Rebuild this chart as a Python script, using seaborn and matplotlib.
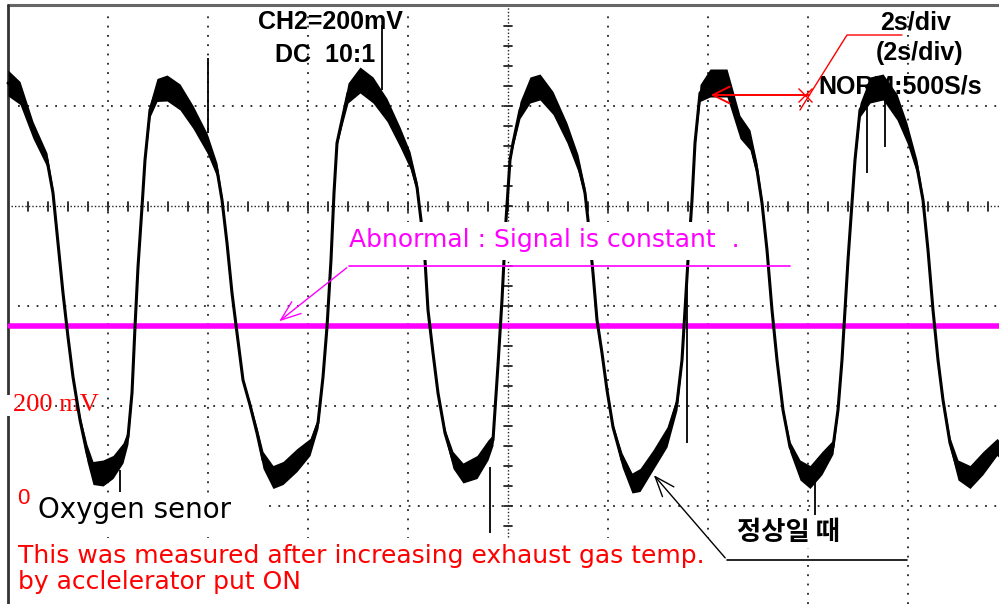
import numpy as np
import pandas as pd
import matplotlib
matplotlib.use('Agg')
import matplotlib.pyplot as plt
from matplotlib.patches import Rectangle
import seaborn as sns

# oscilloscope trace: time in s (2 s/div), voltage in mV (200 mV/div)
trace_t = [0.00, 0.24, 0.50, 0.78, 0.90, 1.00, 1.10, 1.20, 1.30, 1.44, 1.58, 1.70, 1.90, 2.10, 2.30,
           2.40, 2.48, 2.54, 2.60, 2.68, 2.74, 2.84, 2.98, 3.18, 3.44, 3.70, 3.98, 4.18, 4.28, 4.38,
           4.48, 4.58, 4.70, 4.84, 4.98, 5.10, 5.30, 5.50, 5.78, 6.04, 6.20, 6.30, 6.38, 6.46, 6.52,
           6.58, 6.68, 6.80, 7.04, 7.30, 7.58, 7.84, 8.04, 8.18, 8.26, 8.34, 8.40, 8.50, 8.60, 8.74,
           8.90, 9.10, 9.38, 9.60, 9.70, 9.80, 9.88, 9.96, 10.04, 10.10, 10.24, 10.44, 10.64, 10.90, 11.18,
           11.40, 11.54, 11.60, 11.70, 11.78, 11.88, 11.98, 12.10, 12.28, 12.48, 12.64, 12.90, 13.18, 13.38, 13.48,
           13.54, 13.60, 13.68, 13.74, 13.84, 14.04, 14.38, 14.64, 14.84, 14.98, 15.08, 15.18, 15.28, 15.38, 15.50,
           15.64, 15.84, 16.04, 16.28, 16.50, 16.60, 16.68, 16.74, 16.80, 16.88, 16.94, 17.04, 17.24, 17.50, 17.78,
           17.98, 18.18, 18.30, 18.40, 18.50, 18.60, 18.70, 18.84, 19.00, 19.24, 19.50, 19.78, 19.82]
trace_mv = [846, 826, 752, 692, 626, 526, 426, 338, 258, 172, 106, 66, 66, 78, 106,
            138, 226, 358, 478, 598, 692, 792, 832, 836, 818, 778, 726, 672, 612, 526,
            426, 346, 252, 202, 146, 92, 58, 66, 92, 118, 166, 258, 358, 492, 626,
            726, 772, 826, 852, 832, 792, 738, 692, 638, 572, 492, 392, 306, 226, 146,
            92, 66, 78, 112, 132, 282, 412, 572, 692, 726, 792, 832, 838, 806, 746,
            686, 626, 572, 466, 372, 306, 232, 158, 92, 46, 52, 92, 138, 206, 292,
            392, 492, 612, 726, 826, 846, 846, 758, 732, 672, 606, 512, 392, 292, 192,
            118, 72, 58, 86, 118, 192, 292, 392, 492, 606, 692, 792, 832, 838, 798,
            746, 678, 612, 512, 392, 292, 212, 126, 72, 58, 86, 118, 114]
# half-width of the noisy band around the trace, mV
trace_noise = [26, 23, 17, 14, 8, 3, 3, 3, 3, 8, 17, 23, 26, 23, 20,
               14, 3, 2, 2, 2, 5, 14, 23, 26, 26, 23, 20, 14, 8, 3,
               3, 3, 3, 6, 11, 17, 23, 23, 23, 17, 11, 3, 2, 2, 2,
               5, 11, 20, 26, 26, 23, 20, 17, 11, 5, 3, 3, 3, 3, 8,
               17, 20, 23, 20, 11, 3, 2, 2, 3, 8, 17, 26, 26, 23, 20,
               17, 11, 5, 3, 3, 3, 3, 6, 14, 20, 23, 20, 20, 14, 5,
               2, 2, 2, 5, 17, 28, 28, 23, 20, 14, 8, 3, 3, 3, 5,
               11, 20, 23, 23, 14, 5, 2, 2, 2, 2, 5, 14, 26, 26, 26,
               20, 14, 8, 3, 3, 3, 5, 11, 20, 23, 23, 17, 17]

# thin glitches on the trace
spike_t = [2.24, 4.00, 7.48, 9.64, 13.58, 16.14, 17.18, 17.54]
spike_lo = [28, 746, 832, -54, 126, -18, 666, 718]
spike_hi = [72, 896, 962, 78, 466, 72, 812, 812]

# abnormal sensor: flat signal
abnormal_t = [0.04, 19.82]
abnormal_mv = [360, 360]

trace = pd.DataFrame({'t': trace_t, 'mv': trace_mv, 'noise': trace_noise})
flat = pd.DataFrame({'t': abnormal_t, 'mv': abnormal_mv})

sns.set_theme(style='white')
plt.rcParams['font.family'] = ['DejaVu Sans', 'Noto Sans CJK KR']

fig = plt.figure(figsize=(9.99, 6.04), dpi=100)
ax = fig.add_axes([0, 0, 1, 1])
ax.set_xlim(-0.16, 19.82)
ax.set_ylim(-196, 1012)
ax.set_axis_off()

# scope graticule
dots = (0, (1, 4.15))
for t in [2, 4, 6, 8, 12, 14, 16, 18]:
    ax.plot([t, t], [-196, 985], color='#222222', lw=1.3, ls=dots, zorder=1)
for v in [800, 400, 200, 0]:
    ax.plot([0.2, 19.82], [v, v], color='#222222', lw=1.3, ls=dots, zorder=1)
ax.plot([0.05, 19.82], [600, 600], color='#222222', lw=1.0, ls=(0, (1, 1.5)), zorder=1)
ax.plot([10, 10], [-62, 1000], color='#222222', lw=1.0, ls=(0, (1, 1.5)), zorder=1)
for t in np.arange(0.4, 19.82, 0.4):
    ax.plot([t, t], [591, 609], color='#222222', lw=1.3, zorder=1)
for v in np.arange(-40, 1000, 40):
    ax.plot([9.92, 10.08], [v, v], color='#222222', lw=1.3, zorder=1)

# frame
ax.plot([0, 19.82], [1002, 1002], color='#666666', lw=2.2, zorder=1)
ax.plot([0, 0], [-196, 1002], color='#333333', lw=2.0, zorder=1)

# white label areas
ax.add_patch(Rectangle((0.05, -50), 5.1, 76, facecolor='white', edgecolor='none', zorder=2))
ax.add_patch(Rectangle((0.05, -200), 14.1, 136, facecolor='white', edgecolor='none', zorder=2))
ax.add_patch(Rectangle((-0.1, 180), 0.3, 42, facecolor='white', edgecolor='none', zorder=2))

# signals
sns.lineplot(data=flat, x='t', y='mv', color='#ff00ff', lw=4, ax=ax, zorder=4)
ax.fill_between(trace['t'], trace['mv'] - trace['noise'], trace['mv'] + trace['noise'],
                color='black', lw=0, zorder=5)
sns.lineplot(data=trace, x='t', y='mv', sort=False, estimator=None, color='black', lw=2.2,
             ax=ax, zorder=5)
ax.vlines(spike_t, spike_lo, spike_hi, color='black', lw=1.3, zorder=5)

# abnormal annotation (masks the trace behind it)
ax.add_patch(Rectangle((6.74, 492), 7.5, 76, facecolor='white', edgecolor='none', zorder=6))
ax.text(6.82, 532, 'Abnormal : Signal is constant  .', color='#ff00ff', fontsize=18,
        va='center', ha='left', zorder=7)
ax.plot([15.64, 6.82], [480, 480], color='#ff00ff', lw=1.2, zorder=6)
ax.annotate('', xy=(5.38, 366), xytext=(6.82, 480), zorder=6,
            arrowprops=dict(arrowstyle='->,head_length=1.2,head_width=0.45', color='#ff00ff', lw=1.0))

# scope settings text
bold = dict(family='Liberation Sans', weight='bold', fontsize=18, color='black', zorder=3)
ax.text(5.0, 968, 'CH2=200mV', va='center', ha='left', **bold)
ax.text(5.34, 902, 'DC  10:1', va='center', ha='left', **bold)
ax.text(18.16, 966, '2s/div', va='center', ha='center', **bold)
ax.text(18.24, 906, '(2s/div)', va='center', ha='center', **bold)
ax.text(16.2, 838, 'NORM:500S/s', va='center', ha='left', **bold)

ax.plot([17.88, 16.78, 15.84], [942, 942, 792], color='red', lw=1.0, zorder=6)
ax.plot([15.94], [822], marker='x', ms=10, color='red', mew=1.0, zorder=6)
ax.annotate('', xy=(14.0, 822), xytext=(16.08, 822), zorder=6,
            arrowprops=dict(arrowstyle='->,head_length=1.0,head_width=0.5', color='red', lw=1.4))

# axis labels
ax.text(0.1, 202, '200 mV', family='Liberation Serif', fontsize=19, color='red',
        va='center', ha='left', zorder=3)
ax.text(0.18, 14, '0', family='Liberation Sans', fontsize=16, color='red', va='center', ha='left', zorder=3)
ax.text(0.6, -8, 'Oxygen senor', fontsize=20, color='black', va='center', ha='left', zorder=3)

ax.text(0.2, -100, 'This was measured after increasing exhaust gas temp.', fontsize=18,
        color='red', va='center', ha='left', zorder=3)
ax.text(0.2, -152, 'by acclelerator put ON', fontsize=18, color='red', va='center', ha='left', zorder=3)

# normal sensor annotation
ax.text(14.58, -52, '정상일 때', family=['Noto Sans CJK KR', 'DejaVu Sans'], weight='bold',
        fontsize=19, color='black', va='center', ha='left', zorder=3,
        bbox=dict(facecolor='white', edgecolor='none', pad=2))
ax.plot([17.98, 14.38], [-108, -108], color='black', lw=1.2, zorder=6)
ax.annotate('', xy=(12.88, 66), xytext=(14.38, -108), zorder=6,
            arrowprops=dict(arrowstyle='->,head_length=1.2,head_width=0.45', color='black', lw=1.0))

fig.savefig('out.png', dpi=100)
